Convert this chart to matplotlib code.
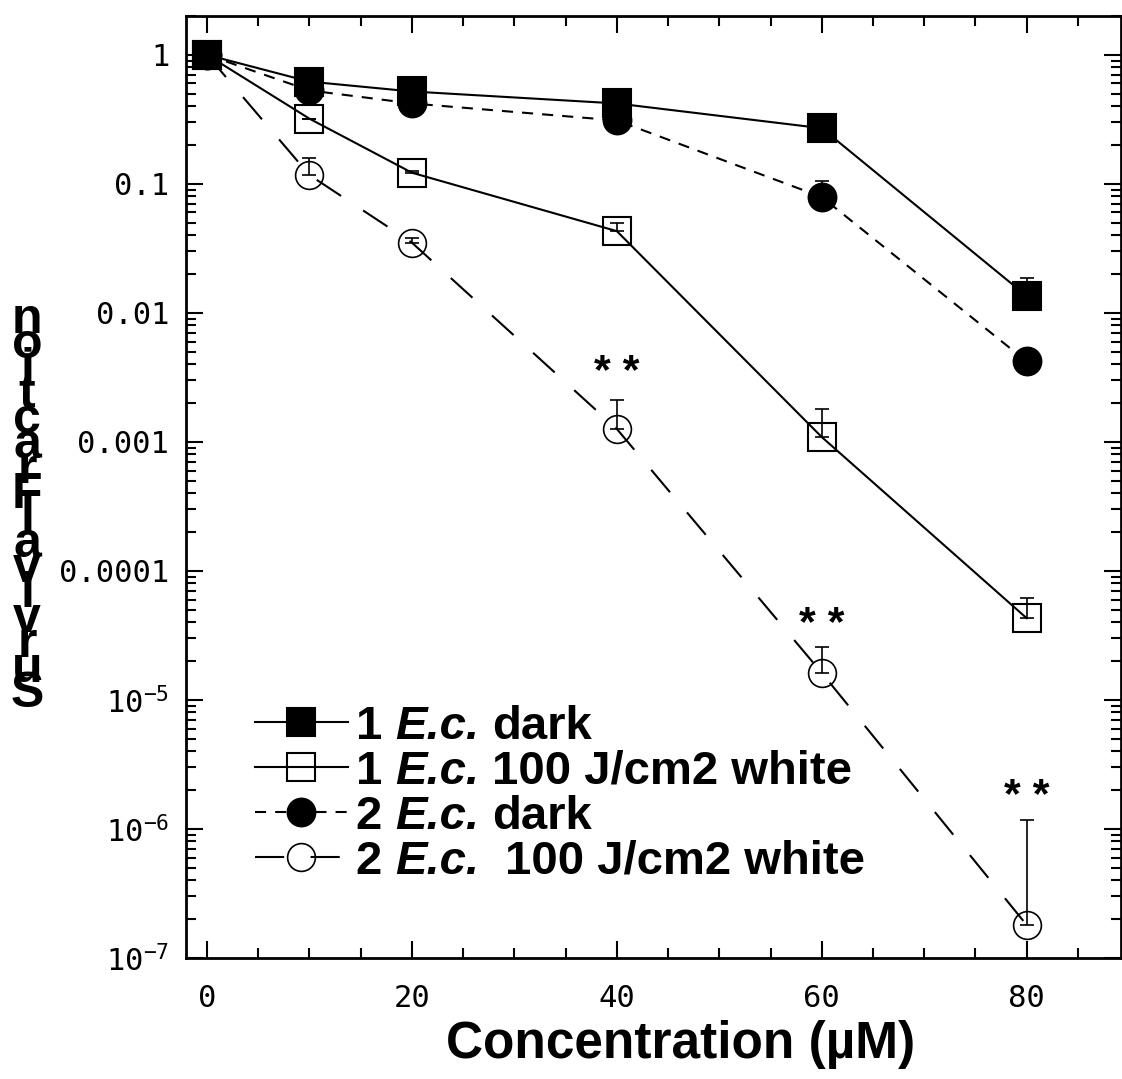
import numpy as np
import matplotlib
matplotlib.use('Agg')
import matplotlib.pyplot as plt
from matplotlib.ticker import MultipleLocator, LogLocator, NullFormatter

plt.rcParams['lines.scale_dashes'] = False

# concentrations (uM)
conc = [0, 10, 20, 40, 60, 80]

# survival fractions
dark1 = [1.0, 0.62, 0.52, 0.42, 0.27, 0.0135]
dark1_err = [0, 0, 0, 0, 0, 0.0052]
white1 = [1.0, 0.32, 0.122, 0.043, 0.00109, 4.3e-5]
white1_err = [0, 0, 0.003, 0.007, 0.0007, 1.9e-5]
dark2 = [1.0, 0.53, 0.42, 0.31, 0.079, 0.0042]
dark2_err = [0, 0, 0, 0, 0.027, 0]
white2 = [1.0, 0.117, 0.035, 0.00126, 1.62e-5, 1.8e-7]
white2_err = [0, 0.043, 0.003, 0.00084, 0.96e-5, 0.99e-6]

# legend labels: number, italic strain, rest (with number of spaces before it)
label_num = ['1', '1', '2', '2']
label_strain = 'E.c.'
label_rest = ['dark', '100 J/cm2 white', 'dark', '100 J/cm2 white']
label_gap = [1, 1, 1, 2]

# significance marks (centre of the stars)
star_x = [40, 60, 80]
star_y = [0.0043, 4.8e-5, 2.2e-6]

ytick_vals = [1, 0.1, 0.01, 0.001, 0.0001, 1e-5, 1e-6, 1e-7]
ytick_labels = ['1', '0.1', '0.01', '0.001', '0.0001',
                '$\\mathregular{10^{-5}}$', '$\\mathregular{10^{-6}}$',
                '$\\mathregular{10^{-7}}$']
xtick_vals = [0, 20, 40, 60, 80]

W, H = 1122, 1079
fig = plt.figure(figsize=(W / 100, H / 100), dpi=100)
ax = fig.add_axes([186 / W, 1 - 958 / H, (1121 - 186) / W, (958 - 16) / H])

lw = 1.5
ms = 20
mew = 1.5

def errs(v, e):
    return [np.zeros(len(v)), e]

for vals, e in [(dark2, dark2_err), (white2, white2_err),
                (white1, white1_err), (dark1, dark1_err)]:
    ax.errorbar(conc, vals, yerr=errs(vals, e), fmt='none', ecolor='k',
                elinewidth=1.2, capsize=4.7, capthick=1.2, zorder=2)

l3, = ax.plot(conc, dark2, color='k', lw=lw, dashes=(8, 6.5), marker='o', ms=ms,
              mfc='k', mec='k', mew=mew, zorder=3)
l4, = ax.plot(conc, white2, color='k', lw=lw, dashes=(21, 19), marker='o', ms=ms,
              mfc='none', mec='k', mew=1.2, zorder=3)
l2, = ax.plot(conc, white1, color='k', lw=lw, ls='-', marker='s', ms=ms,
              mfc='none', mec='k', mew=mew, zorder=4)
l1, = ax.plot(conc, dark1, color='k', lw=lw, ls='-', marker='s', ms=ms,
              mfc='k', mec='k', mew=mew, zorder=5)

for sx, sy in zip(star_x, star_y):
    ax.annotate('* *', (sx, sy), xytext=(0, -17), textcoords='offset points',
                ha='center', va='baseline', fontsize=31,
                family='Liberation Sans', fontweight='bold')

ax.set_yscale('log')
ax.set_ylim(1e-7, 2)
ax.set_xlim(-2.05, 89.2)
ax.set_yticks(ytick_vals)
ax.set_yticklabels(ytick_labels)
ax.yaxis.set_minor_locator(LogLocator(base=10, subs=np.arange(2, 10), numticks=20))
ax.yaxis.set_minor_formatter(NullFormatter())
ax.set_xticks(xtick_vals)
ax.xaxis.set_minor_locator(MultipleLocator(5))

ax.tick_params(which='both', direction='in', top=True, right=True, width=1.5)
ax.tick_params(which='major', length=12)
ax.tick_params(which='minor', length=7)
ax.tick_params(axis='y', which='major', pad=12)
ax.tick_params(axis='x', which='major', pad=19)
for lab in ax.get_xticklabels() + ax.get_yticklabels():
    lab.set_family('DejaVu Sans Mono')
    lab.set_fontsize(22)
for sp in ax.spines.values():
    sp.set_linewidth(2)

fs_leg = 34
leg = ax.legend([l1, l2, l3, l4], label_num, loc='upper left',
                bbox_to_anchor=(255 / W, 1 - 705 / H), bbox_transform=fig.transFigure,
                frameon=False, borderpad=0, borderaxespad=0, handlelength=1.96,
                handletextpad=0.17, labelspacing=0.02, numpoints=1,
                prop={'family': 'Liberation Sans', 'weight': 'bold', 'size': fs_leg})

# italic strain name and the rest of each legend label, chained after the number
space_pt = 0.278 * fs_leg
for t, rest, gap in zip(leg.get_texts(), label_rest, label_gap):
    it = ax.annotate(label_strain, xy=(1, 0), xycoords=t, xytext=(space_pt, 0),
                     textcoords='offset points', ha='left', va='bottom',
                     fontsize=fs_leg, family='Liberation Sans', fontweight='bold',
                     fontstyle='italic', zorder=6)
    ax.annotate(rest, xy=(1, 0), xycoords=it, xytext=(space_pt * gap, 0),
                textcoords='offset points', ha='left', va='bottom',
                fontsize=fs_leg, family='Liberation Sans', fontweight='bold', zorder=6)

fig.text(681 / W, 1 - 1058 / H, 'Concentration (µM)', ha='center', va='baseline',
         fontsize=37, family='Liberation Sans', fontweight='bold')

ylab = 'SurvivalFraction'
for i, ch in enumerate(ylab):
    base = 707 - i * (707 - 333) / (len(ylab) - 1)
    fig.text(27 / W, 1 - base / H, ch, ha='center', va='baseline',
             fontsize=36, family='Liberation Sans', fontweight='bold')

fig.canvas.draw()
fig.savefig('out.png', dpi=100)
